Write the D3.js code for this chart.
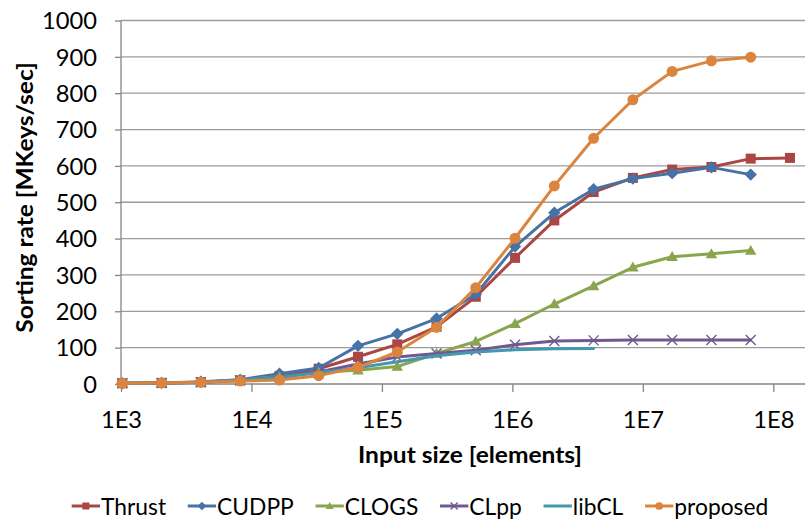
<!DOCTYPE html>
<html><head><meta charset="utf-8">
<script src="https://cdn.jsdelivr.net/npm/d3@7/dist/d3.min.js"></script>
<style>
html,body{margin:0;padding:0;background:#fff;}
svg{display:block;font-family:Lato,"Open Sans",sans-serif;}
</style></head><body>
<svg id="chart" width="805" height="522"></svg>
<script>
// ---------- data ----------
const sizes = [1024, 2048, 4096, 8192, 16384, 32768, 65536, 131072, 262144, 524288,
  1048576, 2097152, 4194304, 8388608, 16777216, 33554432, 67108864, 134217728];
const seriesNames = ["Thrust", "CUDPP", "CLOGS", "CLpp", "libCL", "proposed"];
const thrust   = [2, 3, 5, 10, 21, 42, 75, 109, 157, 240, 347, 450, 528, 567, 590, 597, 620, 622];
const cudpp    = [2, 3, 6, 12, 28, 44, 105, 138, 180, 247, 378, 471, 536, 565, 580, 596, 576];
const clogs    = [2, 3, 5, 11, 20, 32, 38, 48, 84, 117, 166, 220, 270, 321, 350, 358, 367];
const clpp     = [2, 3, 5, 10, 19, 33, 55, 74, 84, 93, 108, 118, 120, 121, 121, 121, 121];
const libcl    = [2, 3, 5, 10, 18, 31, 45, 61, 78, 88, 94, 97, 98];
const proposed = [2, 3, 5, 8, 11, 23, 46, 88, 156, 265, 401, 545, 676, 782, 860, 889, 899];
const yTicks = [0, 100, 200, 300, 400, 500, 600, 700, 800, 900, 1000];
const xTicks = [1e3, 1e4, 1e5, 1e6, 1e7, 1e8];
const xTickLabels = ["1E3", "1E4", "1E5", "1E6", "1E7", "1E8"];
const xTitle = "Input size [elements]";
const yTitle = "Sorting rate [MKeys/sec]";

// ---------- styles ----------
const colors = ["#AA4643", "#4572A7", "#89A54E", "#71588F", "#4198AF", "#DB843D"];
const markers = ["square", "diamond", "triangle", "x", "none", "circle"];
const allValues = [thrust, cudpp, clogs, clpp, libcl, proposed];
const series = seriesNames.map((name, i) => ({
  name, color: colors[i], marker: markers[i],
  points: allValues[i].map((v, j) => ({x: sizes[j], y: v}))
}));

const plot = {left: 121, top: 20.5, right: 805, bottom: 384};
const FS = 23;
const FONT = "Lato,'Open Sans',sans-serif";

const svg = d3.select("#chart");
const x = d3.scaleLog().domain([1e3, 1e8]).range([plot.left, 773.3]);
const y = d3.scaleLinear().domain([0, 1000]).range([plot.bottom, plot.top]);

// measurement helper for Calibri-like narrow text
const meas = svg.append("text").attr("font-size", FS).attr("x", -1000).attr("y", -1000);
function natural(str, bold) {
  meas.attr("font-weight", bold ? "bold" : "normal").text(str);
  return meas.node().getComputedTextLength();
}
const kReg = 67.6 / natural("Thrust", false);
const kBold = 224 / natural(xTitle, true);
const legendNat = seriesNames.map(n => natural(n, false));
meas.remove();
function squeeze(sel, k) {
  sel.each(function() {
    const w = this.getComputedTextLength();
    d3.select(this).attr("textLength", w * k).attr("lengthAdjust", "spacingAndGlyphs");
  });
}

// ---------- gridlines ----------
svg.append("g").selectAll("line").data(yTicks.filter(d => d > 0)).join("line")
  .attr("x1", plot.left).attr("x2", plot.right)
  .attr("y1", d => y(d)).attr("y2", d => y(d))
  .attr("stroke", "#9c9c9c").attr("stroke-width", 1.3);

// ---------- axes ----------
const gy = svg.append("g").attr("transform", `translate(${plot.left},0)`)
  .call(d3.axisLeft(y).tickValues(yTicks).tickFormat(d3.format("d")).tickSize(6).tickPadding(18));
gy.select(".domain").remove();
gy.selectAll(".tick line").attr("stroke", "#868686").attr("stroke-width", 1.3);
gy.selectAll(".tick text").attr("font-size", FS).attr("font-family", FONT)
  .attr("fill", "#000").attr("dy", "0.36em").call(squeeze, kReg);

const gx = svg.append("g").attr("transform", `translate(0,${plot.bottom})`)
  .call(d3.axisBottom(x).tickValues(xTicks).tickFormat((d, i) => xTickLabels[i]).tickSize(8).tickPadding(20));
gx.select(".domain").remove();
gx.selectAll(".tick line").attr("stroke", "#868686").attr("stroke-width", 1.3);
gx.selectAll(".tick text").attr("font-size", FS).attr("font-family", FONT)
  .attr("fill", "#000").call(squeeze, kReg);

svg.append("line").attr("x1", plot.left).attr("x2", plot.right)
  .attr("y1", plot.bottom).attr("y2", plot.bottom).attr("stroke", "#868686").attr("stroke-width", 1.3);
svg.append("line").attr("x1", plot.left).attr("x2", plot.left)
  .attr("y1", plot.top).attr("y2", plot.bottom).attr("stroke", "#868686").attr("stroke-width", 1.3);

// titles
svg.append("text").attr("x", 470).attr("y", 463).attr("text-anchor", "middle")
  .attr("font-size", FS).attr("font-weight", "bold").text(xTitle).call(squeeze, kBold);
svg.append("text").attr("transform", "translate(33,197.5) rotate(-90)").attr("text-anchor", "middle")
  .attr("font-size", FS).attr("font-weight", "bold").text(yTitle).call(squeeze, kBold);

// ---------- markers ----------
function drawMarker(g, type, color, s) {
  if (type === "square") {
    g.append("rect").attr("x", -s / 2).attr("y", -s / 2).attr("width", s).attr("height", s).attr("fill", color);
  } else if (type === "diamond") {
    const r = s * 0.62;
    g.append("path").attr("d", `M0,${-r}L${r},0L0,${r}L${-r},0Z`).attr("fill", color);
  } else if (type === "triangle") {
    const h = s * 0.95, w = s * 1.15;
    g.append("path").attr("d", `M0,${-h * 0.6}L${w / 2},${h * 0.45}L${-w / 2},${h * 0.45}Z`).attr("fill", color);
  } else if (type === "circle") {
    g.append("circle").attr("r", s * 0.55).attr("fill", color);
  } else if (type === "x") {
    const r = s / 2;
    g.append("path").attr("d", `M${-r},${-r}L${r},${r}M${-r},${r}L${r},${-r}`)
      .attr("stroke", color).attr("stroke-width", 1.4).attr("fill", "none");
  }
}

// ---------- series ----------
const line = d3.line().x(d => x(d.x)).y(d => y(d.y));
series.forEach(s => {
  const g = svg.append("g");
  g.append("path").datum(s.points).attr("d", line)
    .attr("fill", "none").attr("stroke", s.color).attr("stroke-width", 3)
    .attr("stroke-linejoin", "round").attr("stroke-linecap", "round");
  if (s.marker !== "none") {
    g.selectAll("g.m").data(s.points).join("g").attr("class", "m")
      .attr("transform", d => `translate(${x(d.x)},${y(d.y)})`)
      .each(function() { drawMarker(d3.select(this), s.marker, s.color, 10); });
  }
});

// ---------- legend ----------
const legStart = 71.7, legEnd = 768.3, symW = 28.3, symGap = 1, itemGap = 21.7;
const textTotal = (legEnd - legStart) - series.length * (symW + symGap) - (series.length - 1) * itemGap;
const kLeg = textTotal / d3.sum(legendNat);
const legend = svg.append("g");
let lx = legStart;
const ly = 506;
series.forEach((s, i) => {
  const g = legend.append("g");
  g.append("line").attr("x1", lx).attr("x2", lx + symW).attr("y1", ly).attr("y2", ly)
    .attr("stroke", s.color).attr("stroke-width", 3);
  const mg = g.append("g").attr("transform", `translate(${lx + symW / 2},${ly})`);
  drawMarker(mg, s.marker, s.color, 7);
  const tw = legendNat[i] * kLeg;
  g.append("text").attr("x", lx + symW + symGap).attr("y", 515).attr("font-size", FS)
    .attr("fill", "#000").attr("textLength", tw).attr("lengthAdjust", "spacingAndGlyphs").text(s.name);
  lx += symW + symGap + tw + itemGap;
});
</script>
</body></html>
